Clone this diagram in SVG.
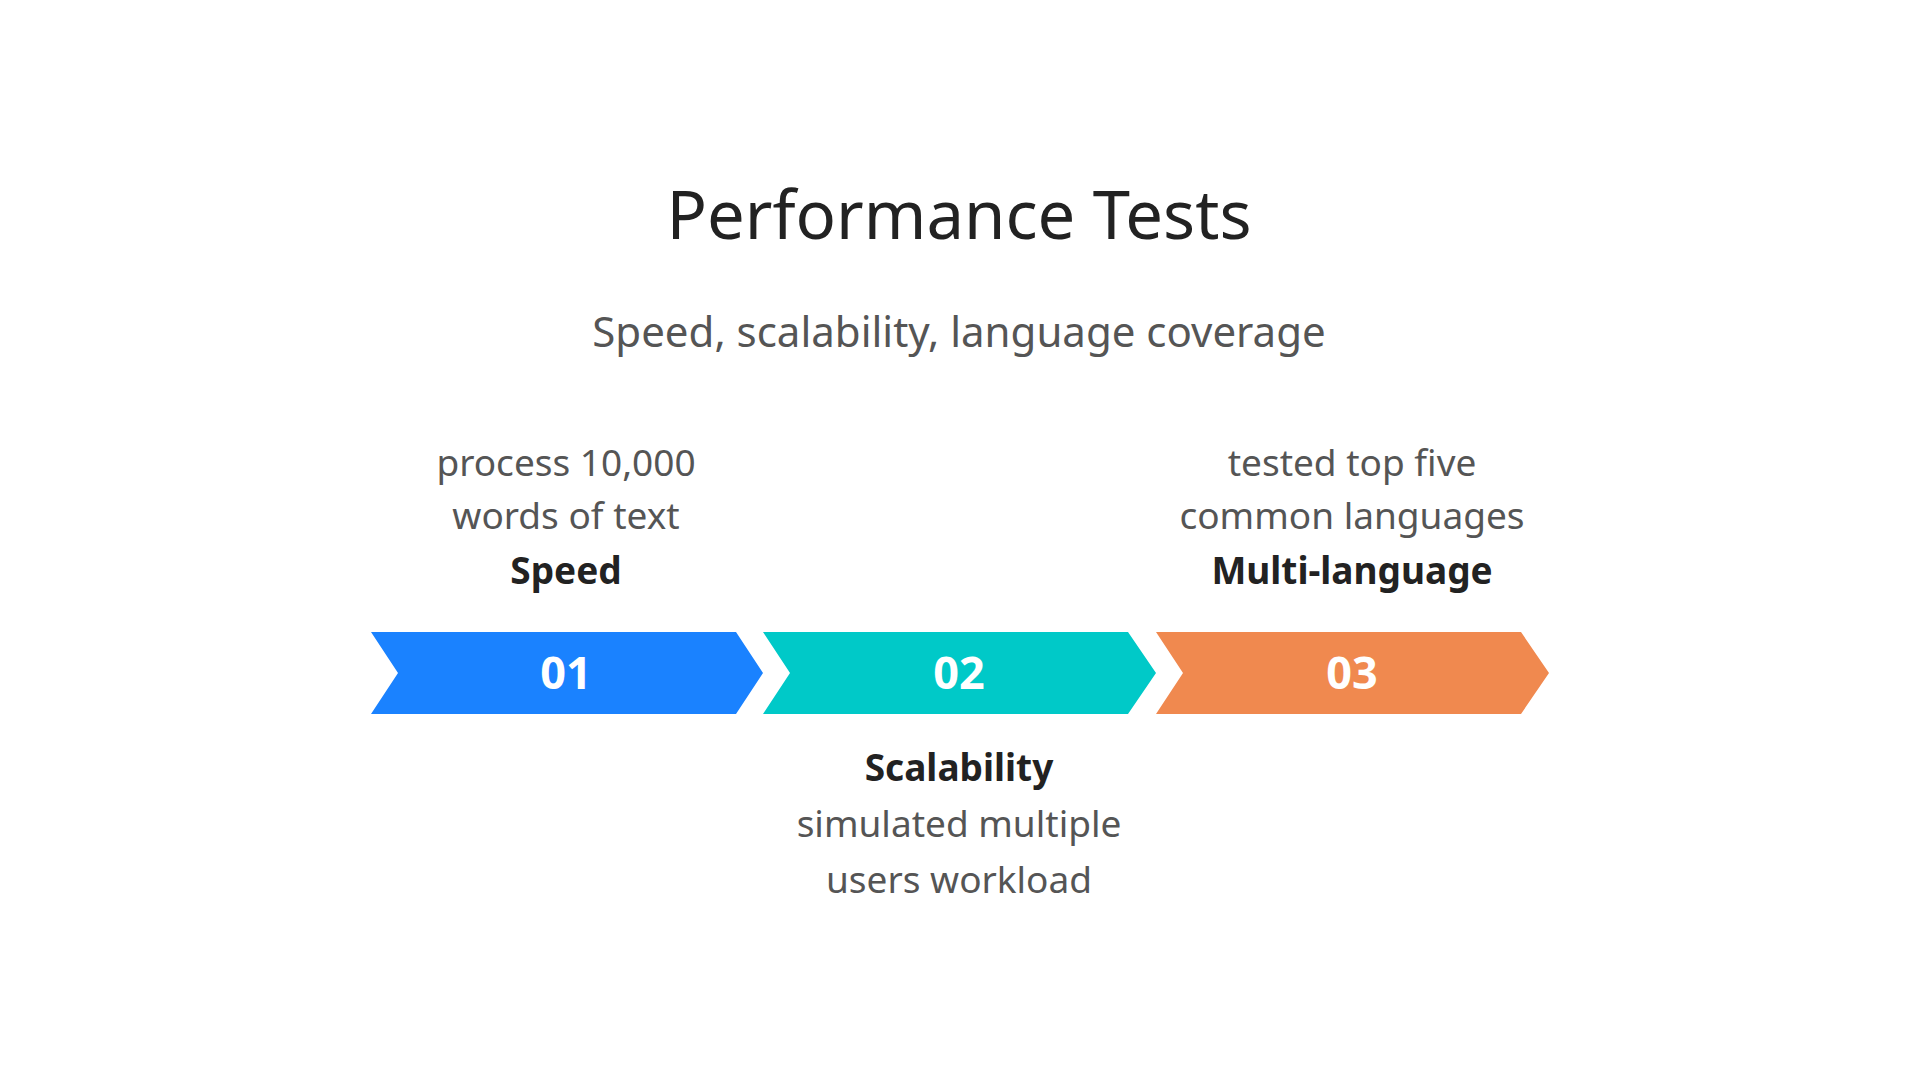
<svg xmlns="http://www.w3.org/2000/svg" width="1920" height="1080" viewBox="0 0 1920 1080">
<style>
text{font-family:"Noto Sans","Open Sans","Liberation Sans",sans-serif;text-anchor:middle}
.t{font-size:67px;fill:#222}
.s{font-size:42px;fill:#555}
.d{font-size:37px;fill:#555}
.h{font-size:37px;fill:#222;font-weight:bold}
.n{font-size:45px;fill:#fff;font-weight:bold}
</style>
<rect width="1920" height="1080" fill="#fff"/>
<text class="t" x="959" y="239">Performance Tests</text>
<text class="s" x="959" y="347">Speed, scalability, language coverage</text>
<g id="step1">
<polygon points="371,632 736,632 763,673 736,714 371,714 398,673" fill="#1a82ff"/>
<text class="n" x="566" y="689">01</text>
<text class="d" x="566" y="476">process 10,000</text>
<text class="d" x="566" y="529">words of text</text>
<text class="h" x="566" y="584">Speed</text>
</g>
<g id="step2">
<polygon points="763,632 1128,632 1156,673 1128,714 763,714 790,673" fill="#00c9c8"/>
<text class="n" x="959" y="689">02</text>
<text class="h" x="959" y="781">Scalability</text>
<text class="d" x="959" y="837">simulated multiple</text>
<text class="d" x="959" y="893">users workload</text>
</g>
<g id="step3">
<polygon points="1156,632 1521,632 1549,673 1521,714 1156,714 1183,673" fill="#f0894f"/>
<text class="n" x="1352" y="689">03</text>
<text class="d" x="1352" y="476">tested top five</text>
<text class="d" x="1352" y="529">common languages</text>
<text class="h" x="1352" y="584">Multi-language</text>
</g>
<g id="connectors"/>
</svg>
